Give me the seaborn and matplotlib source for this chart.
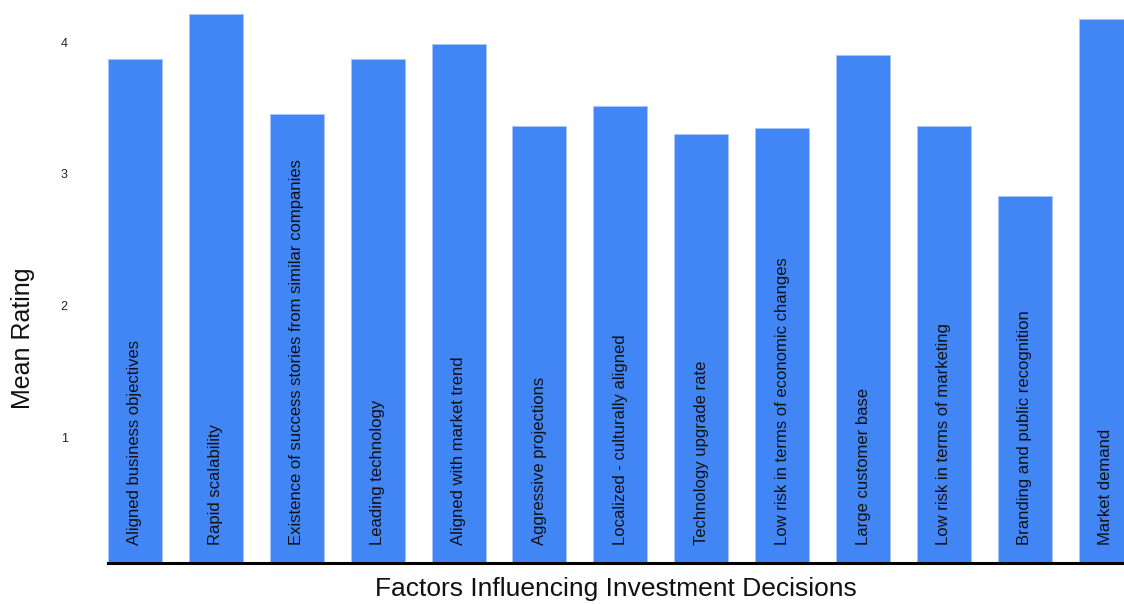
import matplotlib
matplotlib.use("Agg")
import matplotlib.pyplot as plt
import matplotlib.transforms as mtransforms
import seaborn as sns
import pandas as pd

factors = [
    "Aligned business objectives",
    "Rapid scalability",
    "Existence of success stories from similar companies",
    "Leading technology",
    "Aligned with market trend",
    "Aggressive projections",
    "Localized - culturally aligned",
    "Technology upgrade rate",
    "Low risk in terms of economic changes",
    "Large customer base",
    "Low risk in terms of marketing",
    "Branding and public recognition",
    "Market demand",
]
mean_rating = [3.83, 4.17, 3.41, 3.83, 3.94, 3.32, 3.47, 3.26, 3.30, 3.86, 3.32, 2.79, 4.13]
y_ticks = [1, 2, 3, 4]

sns.set_style("white")
plt.rcParams["font.family"] = ["Liberation Sans", "DejaVu Sans"]

df = pd.DataFrame({"factor": factors, "rating": mean_rating})

W, H = 1124, 604
fig = plt.figure(figsize=(W / 100, H / 100), dpi=100)
ax_left, ax_bottom = 108, 563
ax = fig.add_axes([ax_left / W, (H - ax_bottom) / H, (W - ax_left) / W, ax_bottom / H])

sns.barplot(data=df, x="factor", y="rating", color="#4285F4", width=0.667,
            saturation=1, edgecolor="#a9c6fa", linewidth=0.6, ax=ax)

px_per_unit = 131.7
ax.set_ylim(0, ax_bottom / px_per_unit)
ax.set_xlim(-0.333, -0.333 + (W - ax_left) / 80.9)

# factor names written vertically inside each bar
label_y = (ax_bottom - 545) / px_per_unit
for i, name in enumerate(factors):
    ax.text(i, label_y, name, rotation=90, ha="center", va="bottom",
            fontsize=12, color="#111111")

ax.set_xticks([])
ax.set_yticks(y_ticks)
ax.set_yticklabels([str(t) for t in y_ticks], fontsize=9, color="#222222")
ax.tick_params(axis="y", length=0, pad=29)
offset = mtransforms.ScaledTranslation(0, -0.06, fig.dpi_scale_trans)
for lbl in ax.get_yticklabels():
    lbl.set_transform(lbl.get_transform() + offset)

for side in ["top", "right", "left"]:
    ax.spines[side].set_visible(False)
ax.spines["bottom"].set_linewidth(2.2)
ax.spines["bottom"].set_color("#000000")

ax.set_xlabel("Factors Influencing Investment Decisions", fontsize=19,
              color="#111111", labelpad=10)
ax.set_ylabel("Mean Rating", fontsize=18, color="#111111")
ax.yaxis.set_label_coords((23 - ax_left) / (W - ax_left), (ax_bottom - 338) / ax_bottom)
ax.yaxis.label.set_va("center")

fig.savefig("out.png", dpi=100)
